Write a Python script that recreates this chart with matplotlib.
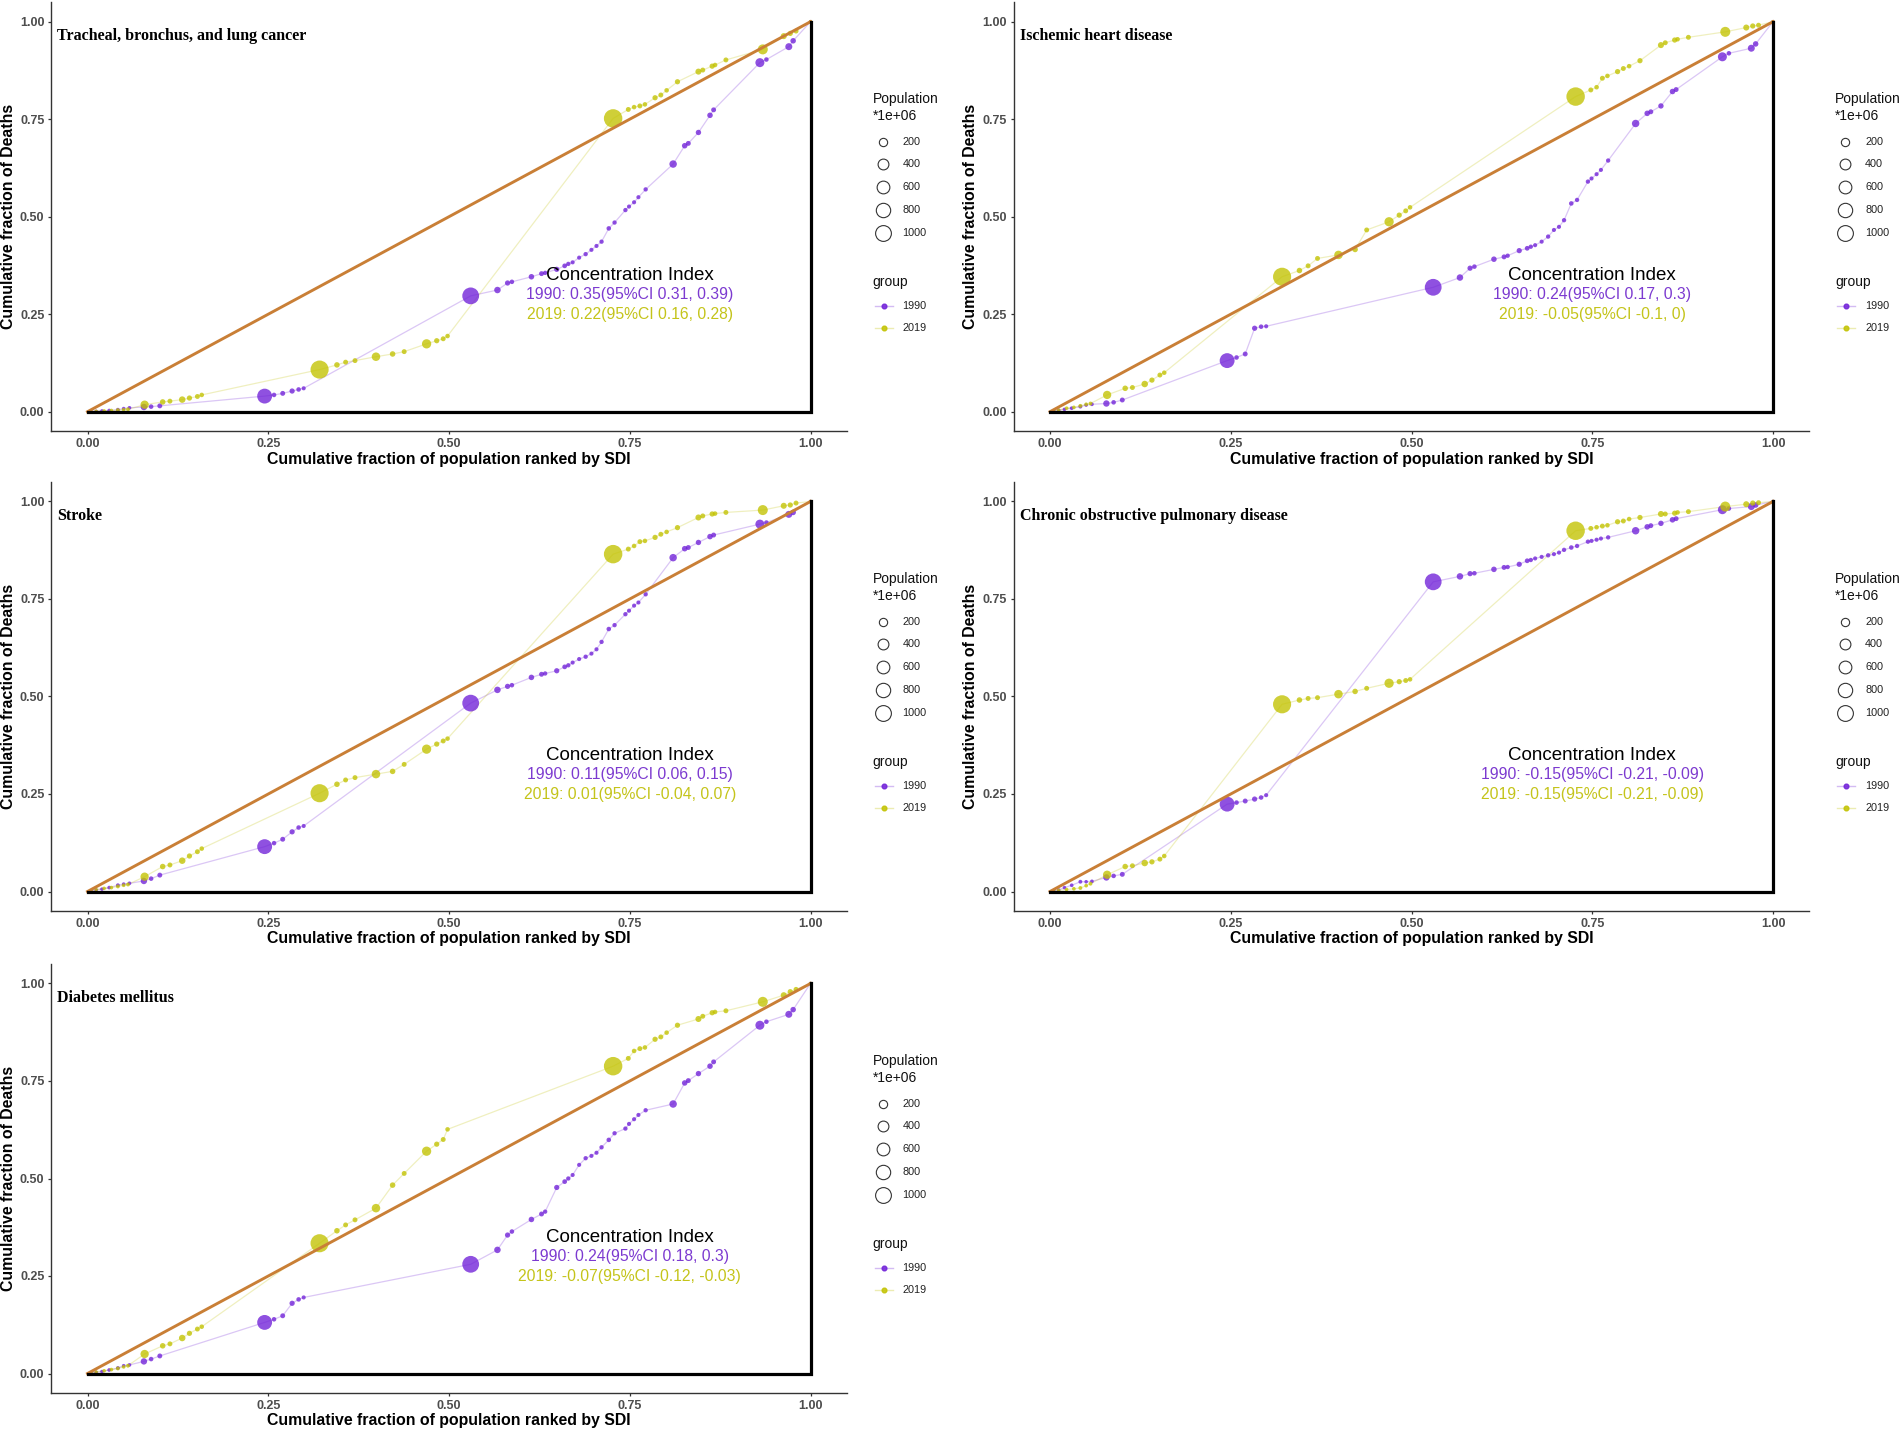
import matplotlib
matplotlib.use("Agg")
import matplotlib.pyplot as plt
from matplotlib.lines import Line2D
import numpy as np

plt.rcParams['font.family'] = ['Liberation Sans', 'DejaVu Sans']

# cumulative population share (ranked by SDI) and population (millions)
x_1990 = [0.005, 0.012, 0.020, 0.030, 0.042, 0.050, 0.058, 0.078, 0.088, 0.100,
          0.245, 0.258, 0.270, 0.283, 0.292, 0.299,
          0.530, 0.567, 0.581, 0.587, 0.614, 0.628, 0.633,
          0.649, 0.660, 0.665, 0.671, 0.680, 0.689, 0.697, 0.704,
          0.711, 0.721, 0.729, 0.744, 0.749, 0.756, 0.762, 0.772,
          0.810, 0.826, 0.831, 0.845, 0.861, 0.866,
          0.930, 0.939, 0.970, 0.976, 1.000]
pop_1990 = [5, 8, 10, 12, 15, 10, 12, 95, 30, 40,
            870, 30, 40, 50, 30, 20,
            1150, 100, 50, 30, 60, 40, 25,
            50, 35, 25, 20, 20, 25, 20, 20,
            25, 30, 25, 25, 20, 20, 20, 25,
            150, 60, 40, 55, 60, 40,
            250, 30, 124, 60, 10]

x_2019 = [0.005, 0.012, 0.023, 0.033, 0.042, 0.050, 0.056,
          0.079, 0.104, 0.114, 0.131, 0.141, 0.152, 0.158,
          0.321, 0.345, 0.357, 0.370, 0.399, 0.422, 0.438, 0.469, 0.483, 0.492, 0.498,
          0.727, 0.748, 0.756, 0.764, 0.771, 0.785, 0.793, 0.801, 0.816,
          0.845, 0.851, 0.864, 0.868, 0.883,
          0.934, 0.963, 0.972, 0.980, 1.000]
pop_2019 = [5, 8, 10, 12, 15, 12, 15,
            200, 60, 40, 100, 50, 40, 30,
            1370, 60, 40, 40, 215, 60, 40, 270, 50, 40, 30,
            1430, 40, 30, 40, 30, 50, 40, 30, 50,
            80, 40, 50, 30, 40,
            330, 80, 50, 40, 10]

# cumulative share of deaths
tracheal_1990 = [0.0005, 0.001, 0.002, 0.003, 0.005, 0.008, 0.010, 0.012, 0.013, 0.015,
                 0.040, 0.043, 0.047, 0.053, 0.057, 0.060,
                 0.297, 0.312, 0.330, 0.333, 0.346, 0.354, 0.356,
                 0.365, 0.374, 0.379, 0.383, 0.395, 0.404, 0.415, 0.425,
                 0.436, 0.470, 0.485, 0.517, 0.526, 0.537, 0.550, 0.570,
                 0.635, 0.682, 0.688, 0.716, 0.760, 0.774,
                 0.895, 0.903, 0.936, 0.951, 1.0]
tracheal_2019 = [0.0005, 0.001, 0.002, 0.003, 0.004, 0.005, 0.006,
                 0.018, 0.025, 0.027, 0.031, 0.035, 0.039, 0.043,
                 0.108, 0.120, 0.127, 0.131, 0.141, 0.148, 0.154, 0.174, 0.182, 0.187, 0.194,
                 0.752, 0.775, 0.781, 0.784, 0.788, 0.805, 0.812, 0.824, 0.846,
                 0.872, 0.876, 0.886, 0.889, 0.902,
                 0.929, 0.963, 0.970, 0.976, 1.0]

ischemic_1990 = [0.002, 0.004, 0.006, 0.009, 0.013, 0.017, 0.019, 0.021, 0.024, 0.030,
                 0.131, 0.139, 0.148, 0.214, 0.218, 0.219,
                 0.319, 0.344, 0.368, 0.372, 0.391, 0.397, 0.400,
                 0.413, 0.419, 0.423, 0.427, 0.436, 0.449, 0.466, 0.474,
                 0.491, 0.534, 0.543, 0.590, 0.598, 0.609, 0.620, 0.644,
                 0.739, 0.765, 0.769, 0.784, 0.821, 0.826,
                 0.910, 0.919, 0.932, 0.943, 1.0]
ischemic_2019 = [0.002, 0.004, 0.009, 0.011, 0.015, 0.019, 0.021,
                 0.043, 0.060, 0.062, 0.071, 0.081, 0.094, 0.100,
                 0.346, 0.362, 0.374, 0.393, 0.402, 0.416, 0.466, 0.487, 0.504, 0.515, 0.524,
                 0.808, 0.825, 0.832, 0.855, 0.861, 0.872, 0.880, 0.886, 0.900,
                 0.940, 0.946, 0.953, 0.955, 0.960,
                 0.974, 0.985, 0.989, 0.991, 1.0]

stroke_1990 = [0.002, 0.004, 0.006, 0.010, 0.016, 0.019, 0.021, 0.027, 0.033, 0.042,
               0.115, 0.124, 0.134, 0.153, 0.164, 0.168,
               0.483, 0.517, 0.526, 0.529, 0.549, 0.557, 0.559,
               0.566, 0.576, 0.580, 0.587, 0.596, 0.602, 0.610, 0.621,
               0.640, 0.673, 0.683, 0.711, 0.720, 0.733, 0.741, 0.762,
               0.856, 0.879, 0.882, 0.895, 0.910, 0.914,
               0.942, 0.946, 0.967, 0.972, 1.0]
stroke_2019 = [0.002, 0.005, 0.008, 0.010, 0.013, 0.016, 0.018,
               0.038, 0.064, 0.068, 0.079, 0.091, 0.102, 0.110,
               0.252, 0.275, 0.286, 0.292, 0.301, 0.308, 0.326, 0.365, 0.378, 0.386, 0.392,
               0.865, 0.878, 0.886, 0.897, 0.899, 0.908, 0.916, 0.922, 0.933,
               0.959, 0.963, 0.968, 0.969, 0.972,
               0.978, 0.989, 0.991, 0.996, 1.0]

copd_1990 = [0.002, 0.004, 0.010, 0.016, 0.025, 0.025, 0.026, 0.036, 0.040, 0.044,
             0.224, 0.228, 0.232, 0.237, 0.241, 0.247,
             0.794, 0.808, 0.815, 0.816, 0.826, 0.831, 0.832,
             0.839, 0.848, 0.850, 0.854, 0.858, 0.862, 0.865, 0.869,
             0.876, 0.882, 0.886, 0.897, 0.899, 0.902, 0.905, 0.908,
             0.925, 0.935, 0.938, 0.944, 0.953, 0.956,
             0.979, 0.982, 0.987, 0.991, 1.0]
copd_2019 = [0.001, 0.003, 0.005, 0.007, 0.009, 0.015, 0.020,
             0.043, 0.064, 0.066, 0.073, 0.076, 0.083, 0.091,
             0.480, 0.491, 0.495, 0.497, 0.506, 0.513, 0.521, 0.534, 0.538, 0.541, 0.544,
             0.925, 0.931, 0.934, 0.937, 0.939, 0.948, 0.950, 0.955, 0.959,
             0.968, 0.968, 0.970, 0.972, 0.974,
             0.987, 0.993, 0.996, 0.997, 1.0]

diabetes_1990 = [0.002, 0.003, 0.005, 0.009, 0.014, 0.020, 0.022, 0.031, 0.037, 0.045,
                 0.131, 0.139, 0.148, 0.180, 0.190, 0.195,
                 0.280, 0.317, 0.355, 0.364, 0.395, 0.409, 0.415,
                 0.477, 0.492, 0.500, 0.509, 0.535, 0.552, 0.558, 0.566,
                 0.580, 0.599, 0.616, 0.628, 0.640, 0.652, 0.663, 0.675,
                 0.691, 0.745, 0.751, 0.769, 0.788, 0.799,
                 0.893, 0.902, 0.921, 0.933, 1.0]
diabetes_2019 = [0.002, 0.004, 0.007, 0.010, 0.013, 0.017, 0.020,
                 0.050, 0.071, 0.076, 0.091, 0.103, 0.114, 0.120,
                 0.334, 0.366, 0.381, 0.394, 0.424, 0.483, 0.513, 0.570, 0.588, 0.600, 0.626,
                 0.788, 0.808, 0.827, 0.833, 0.836, 0.857, 0.863, 0.874, 0.893,
                 0.909, 0.916, 0.925, 0.927, 0.930,
                 0.953, 0.970, 0.979, 0.985, 1.0]

titles = ["Tracheal, bronchus, and lung cancer", "Ischemic heart disease", "Stroke",
          "Chronic obstructive pulmonary disease", "Diabetes mellitus"]
ci_1990 = ["1990: 0.35(95%CI 0.31, 0.39)", "1990: 0.24(95%CI 0.17, 0.3)",
           "1990: 0.11(95%CI 0.06, 0.15)", "1990: -0.15(95%CI -0.21, -0.09)",
           "1990: 0.24(95%CI 0.18, 0.3)"]
ci_2019 = ["2019: 0.22(95%CI 0.16, 0.28)", "2019: -0.05(95%CI -0.1, 0)",
           "2019: 0.01(95%CI -0.04, 0.07)", "2019: -0.15(95%CI -0.21, -0.09)",
           "2019: -0.07(95%CI -0.12, -0.03)"]
deaths_1990 = [tracheal_1990, ischemic_1990, stroke_1990, copd_1990, diabetes_1990]
deaths_2019 = [tracheal_2019, ischemic_2019, stroke_2019, copd_2019, diabetes_2019]

legend_sizes = [200, 400, 600, 800, 1000]
groups = ["1990", "2019"]

W, H = 1904, 1432
PURPLE = '#7020D8'
YELLOW = '#C2C200'
PURPLE_TXT = '#7C3AD0'
YELLOW_TXT = '#C4C41A'
ORANGE = '#C97F36'
SPAN_X, SPAN_Y = 723, 390
col_x0 = [87.5, 1050]
row_y0 = [411.7, 891.5, 1373.5]


def size_px(pop):
    return 2.2 + 0.43 * np.sqrt(np.asarray(pop, dtype=float))


def fx(px):
    return px / W


def fy(py):
    return 1 - py / H


fig = plt.figure(figsize=(W / 100, H / 100), dpi=100)


def draw_legend(R, y0):
    fig.text(fx(R + 26), fy(y0 - 312.7), "Population", fontsize=10, va='center', color='#111')
    fig.text(fx(R + 26), fy(y0 - 295.7), "*1e+06", fontsize=10, va='center', color='#111')
    offs = [-269.7, -247.7, -224.7, -201.7, -178.7]
    for val, off in zip(legend_sizes, offs):
        d = size_px(val) * 0.72
        fig.add_artist(Line2D([fx(R + 36)], [fy(y0 + off)], marker='o', markersize=d,
                              markerfacecolor='none', markeredgecolor='#333333',
                              markeredgewidth=0.8, transform=fig.transFigure))
        fig.text(fx(R + 56), fy(y0 + off), str(val), fontsize=7.8, va='center', color='#222')
    fig.text(fx(R + 26), fy(y0 - 129.7), "group", fontsize=10, va='center', color='#111')
    for g, col, off in zip(groups, [PURPLE, YELLOW], [-105.7, -83.7]):
        fig.add_artist(Line2D([fx(R + 28), fx(R + 46)], [fy(y0 + off)] * 2, color=col,
                              alpha=0.3, lw=1.0, transform=fig.transFigure))
        fig.add_artist(Line2D([fx(R + 37)], [fy(y0 + off)], marker='o', markersize=3.4,
                              color=col, alpha=0.85, lw=0, transform=fig.transFigure))
        fig.text(fx(R + 56), fy(y0 + off), g, fontsize=7.8, va='center', color='#222')


def draw_panel(i, x0, y0):
    left = x0 - 0.05 * SPAN_X
    bottom = y0 + 0.05 * SPAN_Y
    ax = fig.add_axes([fx(left), fy(bottom), 1.1 * SPAN_X / W, 1.1 * SPAN_Y / H])
    ax.set_xlim(-0.05, 1.05)
    ax.set_ylim(-0.05, 1.05)

    for xs, ys, pops, col in [(x_1990, deaths_1990[i], pop_1990, PURPLE),
                              (x_2019, deaths_2019[i], pop_2019, YELLOW)]:
        ax.plot(xs, ys, color=col, alpha=0.25, lw=0.9, zorder=2)
        ax.scatter(xs, ys, s=(size_px(pops) * 0.72) ** 2, color=col, alpha=0.78,
                   linewidths=0, zorder=3)

    # equality and reference lines
    ax.plot([0, 1], [0, 1], color=ORANGE, lw=2.1, zorder=4)
    ax.plot([0, 1, 1], [0, 0, 1], color='black', lw=2.3, zorder=4, solid_joinstyle='miter')

    ax.spines[['top', 'right']].set_visible(False)
    for s in ['left', 'bottom']:
        ax.spines[s].set_color('#333333')
        ax.spines[s].set_linewidth(1.0)
    ticks = [0, 0.25, 0.5, 0.75, 1.0]
    labels = ['0.00', '0.25', '0.50', '0.75', '1.00']
    ax.set_xticks(ticks)
    ax.set_xticklabels(labels)
    ax.set_yticks(ticks)
    ax.set_yticklabels(labels)
    ax.tick_params(length=2.5, width=0.9, color='#333333', labelsize=9,
                   labelcolor='#4D4D4D', pad=2.5)
    for t in ax.get_xticklabels() + ax.get_yticklabels():
        t.set_fontweight('bold')

    ax.text(-0.042, 0.953, titles[i], fontfamily=['Liberation Serif', 'DejaVu Serif'],
            fontweight='bold', fontsize=11.5, va='baseline', ha='left')
    ax.text(0.75, 0.35, "Concentration Index", fontsize=13.5, ha='center', va='center')
    ax.text(0.75, 0.30, ci_1990[i], fontsize=11.3, ha='center', va='center', color=PURPLE_TXT)
    ax.text(0.75, 0.25, ci_2019[i], fontsize=11.3, ha='center', va='center', color=YELLOW_TXT)

    fig.text(fx(x0 - 79), fy(y0 - 0.5 * SPAN_Y), "Cumulative fraction of Deaths",
             rotation=90, fontsize=11.4, fontweight='bold', ha='center', va='center')
    fig.text(fx(x0 + 0.5 * SPAN_X), fy(y0 + 47.5),
             "Cumulative fraction of population ranked by SDI",
             fontsize=11.4, fontweight='bold', ha='center', va='center')

    draw_legend(left + 1.1 * SPAN_X, y0)


positions = [(0, 0), (1, 0), (0, 1), (1, 1), (0, 2)]
for i, (c, r) in enumerate(positions):
    draw_panel(i, col_x0[c], row_y0[r])

fig.savefig("out.png", dpi=100)
